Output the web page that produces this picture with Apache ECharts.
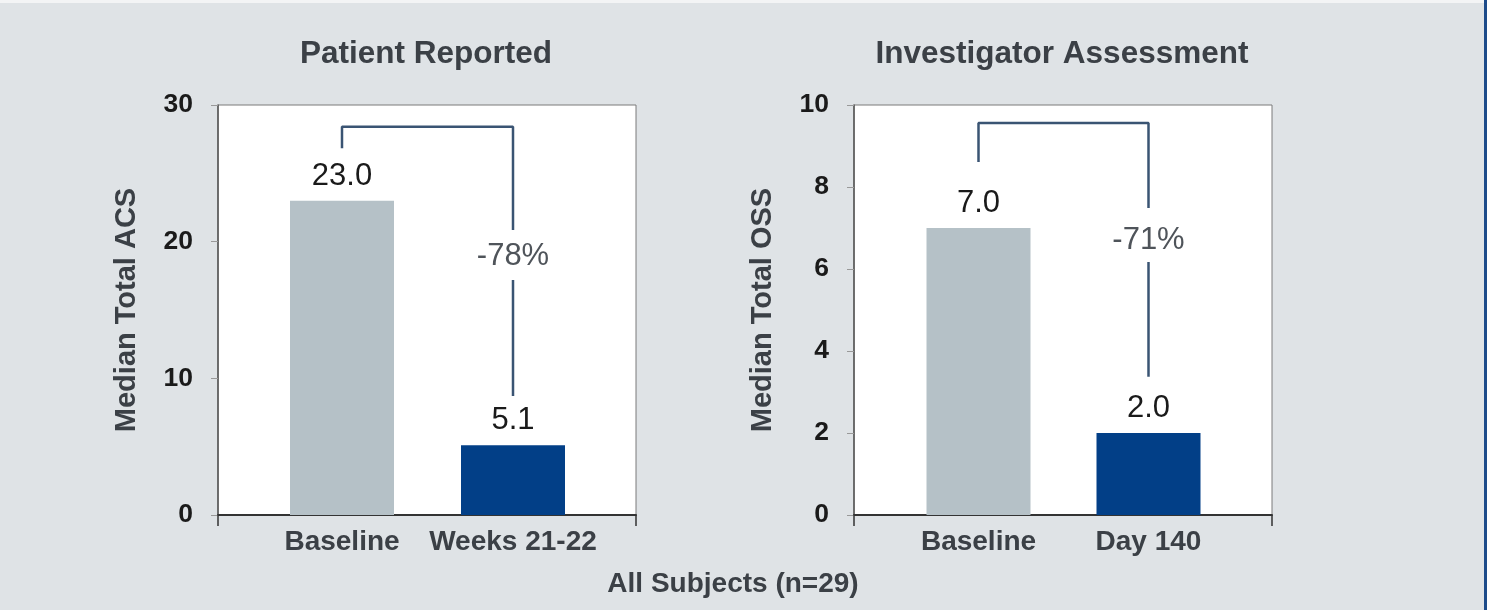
<!DOCTYPE html>
<html>
<head>
<meta charset="utf-8">
<script src="https://cdn.jsdelivr.net/npm/echarts@6/dist/echarts.min.js"></script>
<style>
  html, body { margin: 0; padding: 0; background: #dfe3e6; }
  #chart { width: 1487px; height: 610px; }
</style>
</head>
<body>
<div id="chart"></div>
<script>
// Panel 1: patient reported ACS
const acsCategories = ['Baseline', 'Weeks 21-22'];
const acsValues = [23.0, 5.1];
const acsTicks = [0, 10, 20, 30];
const acsChange = '-78%';
// bracket heights (axis units): left leg bottom, top bar, right leg segments
const acsBracket = { leftFoot: 26.83, top: 28.41, gapTop: 20.85, gapBottom: 17.2, rightFoot: 8.71, labelAt: 18.9 };

// Panel 2: investigator OSS
const ossCategories = ['Baseline', 'Day 140'];
const ossValues = [7.0, 2.0];
const ossTicks = [0, 2, 4, 6, 8, 10];
const ossChange = '-71%';
const ossBracket = { leftFoot: 8.61, top: 9.56, gapTop: 7.49, gapBottom: 6.17, rightFoot: 3.37, labelAt: 6.7 };

const titles = ['Patient Reported', 'Investigator Assessment'];
const yNames = ['Median Total ACS', 'Median Total OSS'];
const footer = 'All Subjects (n=29)';

const barColors = ['#b5c1c7', '#023f87'];
const bracketColor = '#3a5473';
const FONT = '"Liberation Sans", Arial, sans-serif';

const chart = echarts.init(document.getElementById('chart'), null, { renderer: 'canvas' });

function panel(idx, cfg) {
  const outer = idx * 2, inner = idx * 2 + 1;
  const ticks = cfg.ticks;
  const step = ticks[1] - ticks[0];
  const max = ticks[ticks.length - 1];
  const grids = [
    { left: cfg.frameLeft, width: cfg.frameWidth, top: 105, bottom: 95, show: true,
      backgroundColor: '#ffffff', borderColor: '#7a7a7a', borderWidth: 1 },
    { left: cfg.innerLeft, width: cfg.innerWidth, top: 105, bottom: 95 }
  ];
  const xAxes = [
    { gridIndex: outer, type: 'category', data: [''], boundaryGap: true,
      axisLine: { lineStyle: { color: '#333', width: 2 } },
      axisTick: { show: true, length: 11, interval: 0, lineStyle: { color: '#333', width: 1.5 } },
      axisLabel: { show: false } },
    { gridIndex: inner, type: 'category', data: cfg.categories, boundaryGap: true,
      axisLine: { show: false }, axisTick: { show: false },
      axisLabel: { interval: 0, margin: 13, fontFamily: FONT, fontWeight: 'bold', fontSize: 28, color: '#3b4046' } }
  ];
  const yAxes = [
    { gridIndex: outer, type: 'value', min: 0, max: max, interval: step,
      name: cfg.yName, nameLocation: 'middle', nameGap: 77,
      nameTextStyle: { fontFamily: FONT, fontWeight: 'bold', fontSize: 29, color: '#3b4046' },
      axisLine: { show: true, lineStyle: { color: '#555', width: 1.5 } },
      axisTick: { show: true, length: 7, lineStyle: { color: '#999' } },
      splitLine: { show: false },
      axisLabel: { margin: 25, fontFamily: FONT, fontWeight: 'bold', fontSize: 26.5, color: '#1a1a1a' } },
    { gridIndex: inner, type: 'value', min: 0, max: max, show: false, splitLine: { show: false } }
  ];
  const b = cfg.bracket;
  const lineStyle = { color: bracketColor, width: 2.5 };
  const series = [
    { type: 'bar', xAxisIndex: inner, yAxisIndex: inner, barWidth: 104,
      data: cfg.values.map((v, i) => ({ value: v, itemStyle: { color: barColors[i] } })),
      label: { show: true, position: 'top', distance: 9, fontFamily: FONT, fontSize: 31,
               color: '#1a1a1a', formatter: p => p.value.toFixed(1) } },
    { type: 'line', xAxisIndex: inner, yAxisIndex: inner, symbol: 'none', lineStyle,
      data: [[0, b.leftFoot], [0, b.top], [1, b.top], [1, b.gapTop]] },
    { type: 'line', xAxisIndex: inner, yAxisIndex: inner, symbol: 'none', lineStyle,
      data: [[1, b.gapBottom], [1, b.rightFoot]] },
    { type: 'scatter', xAxisIndex: inner, yAxisIndex: inner, symbolSize: 1,
      itemStyle: { color: 'rgba(0,0,0,0)', opacity: 1 },
      label: { show: true, position: 'inside', fontFamily: FONT, fontSize: 31, color: '#4f545a',
               formatter: cfg.change },
      data: [[1, b.labelAt]] }
  ];
  return { grids, xAxes, yAxes, series };
}

const p1 = panel(0, { frameLeft: 218, frameWidth: 418, innerLeft: 256.5, innerWidth: 342,
  ticks: acsTicks, categories: acsCategories, values: acsValues, yName: yNames[0],
  bracket: acsBracket, change: acsChange });
const p2 = panel(1, { frameLeft: 854, frameWidth: 418, innerLeft: 893.5, innerWidth: 340,
  ticks: ossTicks, categories: ossCategories, values: ossValues, yName: yNames[1],
  bracket: ossBracket, change: ossChange });

const titleStyle = { fontFamily: FONT, fontWeight: 'bold', fontSize: 31.5, color: '#3b4046' };

chart.setOption({
  animation: false,
  backgroundColor: '#dfe3e6',
  title: [
    { text: titles[0], left: 426, top: 38, textAlign: 'center', padding: 0, textStyle: titleStyle },
    { text: titles[1], left: 1062, top: 38, textAlign: 'center', padding: 0, textStyle: titleStyle },
    { text: footer, left: 733, top: 570, textAlign: 'center', padding: 0,
      textStyle: { fontFamily: FONT, fontWeight: 'bold', fontSize: 28, color: '#3b4046' } }
  ],
  graphic: [
    { type: 'rect', left: 0, top: 0, shape: { width: 1487, height: 3 }, style: { fill: '#f3f4f5' } },
    { type: 'rect', right: 0, top: 0, shape: { width: 3, height: 610 }, style: { fill: '#1d4b8a' } }
  ],
  grid: [...p1.grids, ...p2.grids],
  xAxis: [...p1.xAxes, ...p2.xAxes],
  yAxis: [...p1.yAxes, ...p2.yAxes],
  series: [...p1.series, ...p2.series]
});
</script>
</body>
</html>
